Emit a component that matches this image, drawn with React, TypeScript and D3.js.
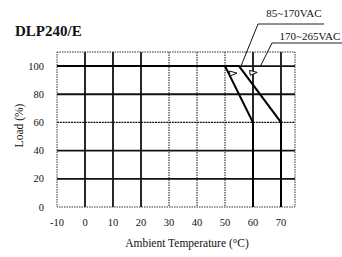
import React from 'react';
import * as d3 from 'd3';

// derating curve, Load (%) vs ambient temperature
const lowLine: [number, number][] = [[-10, 100], [50, 100], [60, 60], [60, 0]];
const highLine: [number, number][] = [[-10, 100], [55, 100], [70, 60], [70, 0]];
const xTicks = [-10, 0, 10, 20, 30, 40, 50, 60, 70];
const yTicks = [0, 20, 40, 60, 80, 100];
const lowLabel = '85~170VAC';
const highLabel = '170~265VAC';
const title = 'DLP240/E';

const W = 342;
const H = 257;
const margin = { top: 52, right: 47, bottom: 50, left: 57 };
const FONT = '"Liberation Serif", "Times New Roman", serif';

// lines that came out faint on the scan
const faintX = [30, 40, 50];
const faintY = [60];

const App: React.FC = () => {
  const x = d3.scaleLinear().domain([-10, 75]).range([margin.left, W - margin.right]);
  const y = d3.scaleLinear().domain([0, 110]).range([H - margin.bottom, margin.top]);
  const line = d3.line<[number, number]>().x(d => x(d[0])).y(d => y(d[1]));

  const x0 = x(-10), x1 = x(75), y0 = y(0), y1 = y(110);

  return (
    <svg width={W} height={H} style={{ position: 'absolute', left: 0, top: 0, background: '#fff' }} fontFamily={FONT}>
      <text x={15} y={36} fontSize={15} fontWeight="bold" fill="#111">{title}</text>

      {/* grid */}
      {xTicks.filter(t => t > -10).map(t => (
        <line key={'gx' + t} x1={x(t)} x2={x(t)} y1={y1} y2={y0}
          stroke="#111" strokeWidth={faintX.includes(t) ? 1 : 1.8}
          strokeDasharray={faintX.includes(t) ? '1.5,1' : undefined} />
      ))}
      {yTicks.filter(t => t > 0).map(t => (
        <line key={'gy' + t} x1={x0} x2={x1} y1={y(t)} y2={y(t)}
          stroke="#111" strokeWidth={faintY.includes(t) ? 1.2 : 1.8}
          strokeDasharray={faintY.includes(t) ? '2,0.8' : undefined} />
      ))}
      <rect x={x0} y={y1} width={x1 - x0} height={y0 - y1} fill="none" stroke="#333" strokeWidth={1} strokeDasharray="1.5,1" />

      {/* curves */}
      <path d={line(lowLine) || ''} fill="none" stroke="#000" strokeWidth={2} />
      <path d={line(highLine) || ''} fill="none" stroke="#000" strokeWidth={2} />

      {/* axis labels */}
      {yTicks.map(t => (
        <text key={'yl' + t} x={44} y={y(t) + 3.5} fontSize={10.5} textAnchor="end" fill="#111">{t}</text>
      ))}
      {xTicks.map(t => (
        <text key={'xl' + t} x={x(t)} y={y0 + 19} fontSize={10.5} textAnchor="middle" fill="#111">{t}</text>
      ))}
      <text x={187} y={247} fontSize={11.5} textAnchor="middle" fill="#111">Ambient Temperature (°C)</text>
      <text transform={`translate(23,${(y0 + y1) / 2 - 4}) rotate(-90)`} fontSize={11.5} textAnchor="middle" fill="#111">Load (%)</text>

      {/* callouts */}
      <text x={294} y={17} fontSize={11} textAnchor="middle" fill="#111">{lowLabel}</text>
      <line x1={258} x2={324} y1={24} y2={24} stroke="#222" strokeWidth={1} />
      <line x1={258} x2={241} y1={24} y2={66} stroke="#111" strokeWidth={1} />
      <polygon points={`${x(51.6)},${y(96.5)} ${x(54.3)},${y(95)} ${x(51.8)},${y(93)}`} fill="#fff" stroke="#111" strokeWidth={1} />
      <text x={310} y={40} fontSize={11} textAnchor="middle" fill="#111">{highLabel}</text>
      <line x1={272} x2={342} y1={43} y2={43} stroke="#222" strokeWidth={1} />
      <line x1={272} x2={260} y1={43} y2={67} stroke="#111" strokeWidth={1} />
      <polygon points={`${x(58.8)},${y(97)} ${x(61.5)},${y(95.5)} ${x(59)},${y(93.5)}`} fill="#fff" stroke="#111" strokeWidth={1} />
    </svg>
  );
};

export default App;
